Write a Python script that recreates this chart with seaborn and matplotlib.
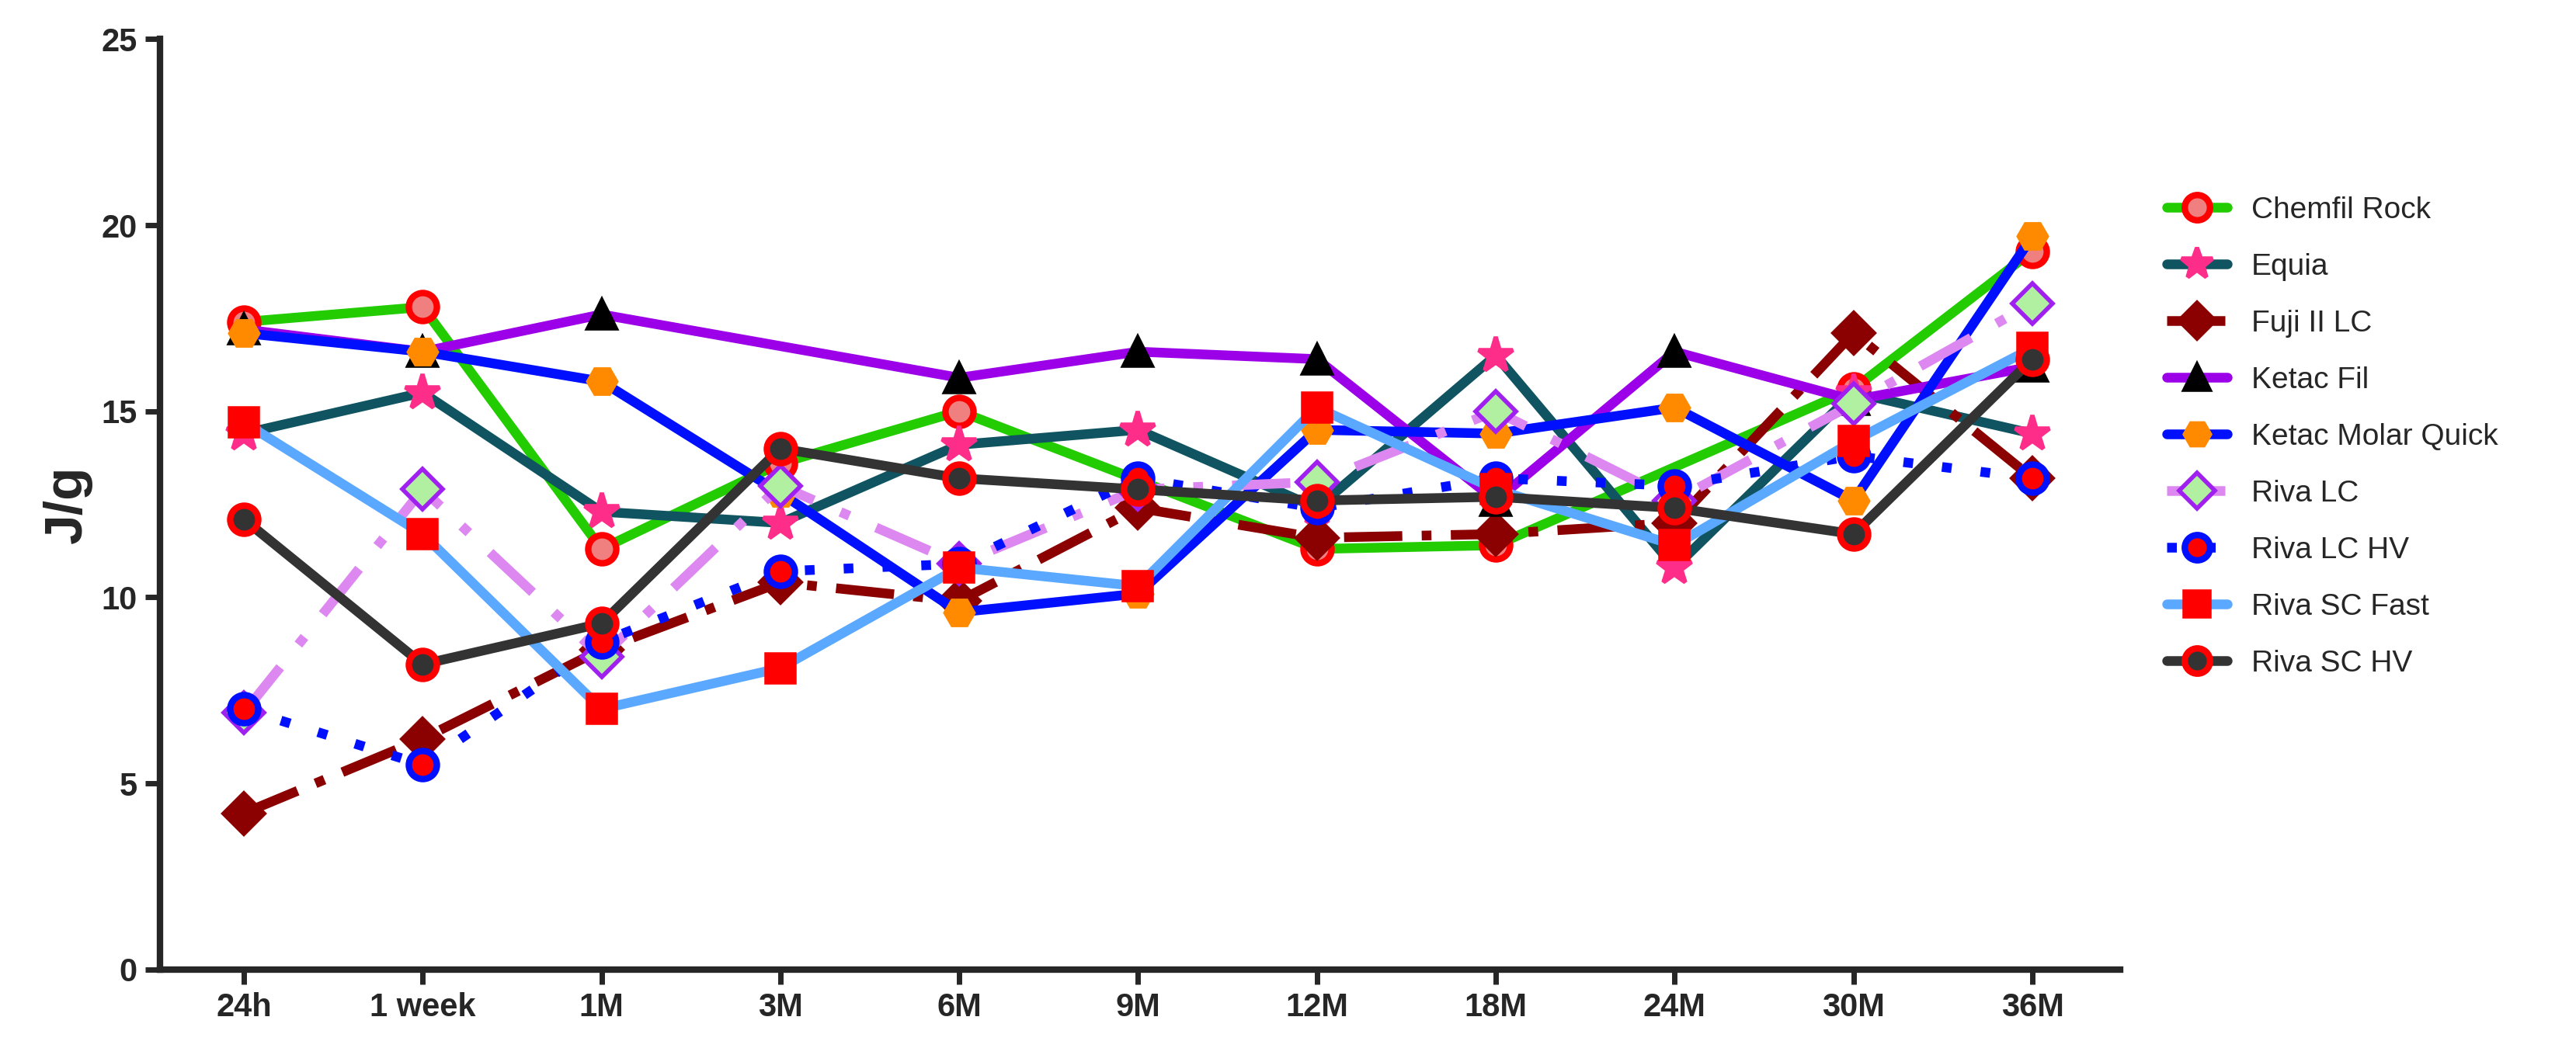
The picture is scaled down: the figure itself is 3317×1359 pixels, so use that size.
import numpy as np
import pandas as pd
import matplotlib
matplotlib.use("Agg")
import matplotlib.pyplot as plt
import seaborn as sns

times = ["24h", "1 week", "1M", "3M", "6M", "9M", "12M", "18M", "24M", "30M", "36M"]

nan = np.nan
chemfil_rock = [17.4, 17.8, 11.3, 13.6, 15.0, nan, 11.3, 11.4, nan, 15.6, 19.3]
equia = [14.4, 15.5, 12.3, 12.0, 14.1, 14.5, 12.4, 16.5, 10.8, 15.5, 14.4]
fuji_ii_lc = [4.2, 6.2, 8.6, 10.4, 9.9, 12.4, 11.6, 11.7, 12.0, 17.1, 13.2]
ketac_fil = [17.2, 16.6, 17.6, nan, 15.9, 16.6, 16.4, 12.6, 16.6, 15.3, 16.2]
ketac_molar_quick = [17.1, 16.6, 15.8, 12.8, 9.6, 10.1, 14.5, 14.4, 15.1, 12.6, 19.7]
riva_lc = [6.9, 12.9, 8.4, 13.0, 10.9, 12.9, 13.1, 15.0, 12.6, 15.2, 17.9]
riva_lc_hv = [7.0, 5.5, 8.8, 10.7, 10.9, 13.2, 12.4, 13.2, 13.0, 13.8, 13.2]
riva_sc_fast = [14.7, 11.7, 7.0, 8.1, 10.8, 10.3, 15.1, 12.9, 11.4, 14.2, 16.7]
riva_sc_hv = [12.1, 8.2, 9.3, 14.0, 13.2, 12.9, 12.6, 12.7, 12.4, 11.7, 16.4]

# name, values, line color, linestyle, marker, marker face, marker edge
series = [
    ("Chemfil Rock", chemfil_rock, "#22cc00", "-", "o", "#f08080", "red"),
    ("Equia", equia, "#0f5460", "-", "*", "#ff2d8a", "#ff2d8a"),
    ("Fuji II LC", fuji_ii_lc, "#8b0000", (0, (6, 2, 1, 2)), "D", "#8b0000", "#8b0000"),
    ("Ketac Fil", ketac_fil, "#9b00e8", "-", "^", "black", "black"),
    ("Ketac Molar Quick", ketac_molar_quick, "#0010ff", "-", "H", "#ff8a00", "#ff8a00"),
    ("Riva LC", riva_lc, "#dd88f0", (0, (6, 3, 1, 3)), "D", "#b0f0a0", "#a020f0"),
    ("Riva LC HV", riva_lc_hv, "#0010ff", (0, (1, 3)), "o", "red", "#0010ff"),
    ("Riva SC Fast", riva_sc_fast, "#5aa8ff", "-", "s", "red", "red"),
    ("Riva SC HV", riva_sc_hv, "#333333", "-", "o", "#333333", "red"),
]

sns.set_style("ticks")
plt.rcParams["font.family"] = ["Liberation Sans", "DejaVu Sans"]

fig = plt.figure(figsize=(16.585, 6.795), dpi=200)
ax = fig.add_axes([0.062, 0.081, 0.761, 0.882])

x = np.arange(len(times))
for name, vals, lc, ls, mk, mf, me in series:
    ms = 17 if mk == "*" else 13
    sns.lineplot(x=x, y=vals, ax=ax, color=lc, linestyle=ls, linewidth=4.5,
                 marker=mk, markersize=ms, markerfacecolor=mf, markeredgecolor=me,
                 markeredgewidth=3 if mk == "o" else 2, label=name)

ax.set_xlim(-0.47, 10.49)
ax.set_ylim(0, 25)
ax.set_yticks([0, 5, 10, 15, 20, 25])
ax.set_xticks(x)
ax.set_xticklabels(times)
for lab in ax.get_xticklabels() + ax.get_yticklabels():
    lab.set_fontweight("bold")
    lab.set_fontsize(15)
ax.set_ylabel("J/g", fontsize=25, fontweight="bold")
ax.set_xlabel("")
ax.tick_params(width=2.5, length=7)
for s in ["left", "bottom"]:
    ax.spines[s].set_linewidth(3)
sns.despine(ax=ax)

ax.legend(loc="upper left", bbox_to_anchor=(1.01, 0.86), frameon=False,
          fontsize=14, handlelength=2.0, labelspacing=0.95, markerscale=0.9)

fig.savefig("out.png", dpi=200)
